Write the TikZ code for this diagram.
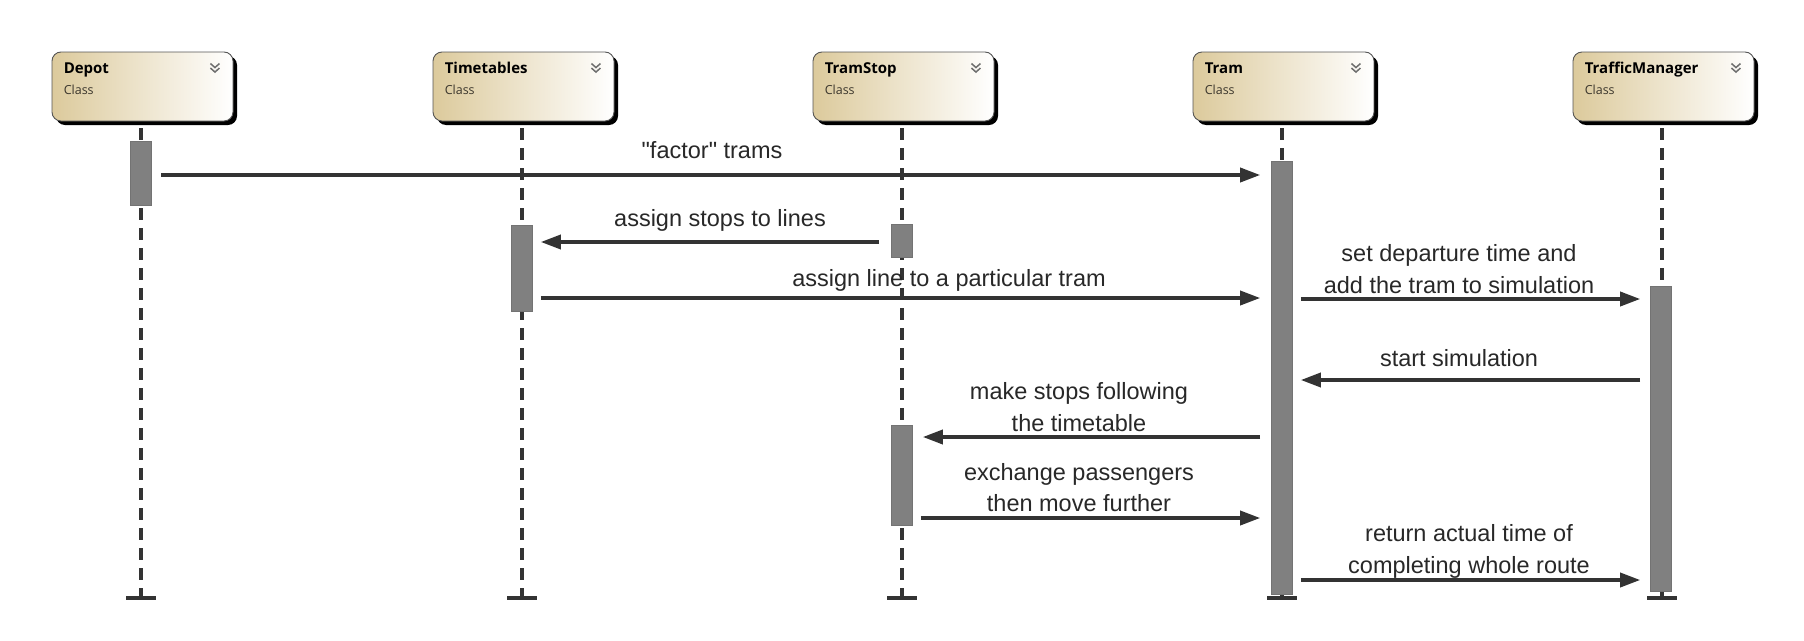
\documentclass[tikz,border=0pt]{standalone}
\usepackage{fontspec}
\setmainfont{Liberation Sans}
\newfontfamily\plainfont{Liberation Sans}[Ligatures=TeXOff]
\newfontfamily\boxfont{Open Sans}
\usetikzlibrary{arrows.meta,shadows}
\definecolor{tanleft}{RGB}{220,202,156}
\definecolor{ink}{RGB}{51,51,51}
\definecolor{txt}{RGB}{40,40,40}
\definecolor{actgray}{RGB}{128,128,128}
\definecolor{boxedge}{RGB}{85,85,85}
\begin{document}
\begin{tikzpicture}[x=1pt,y=-1pt,
  classbox/.style={draw=boxedge, line width=0.9pt, rounded corners=9pt,
    minimum width=181pt, minimum height=69pt, inner sep=0pt,
    left color=tanleft, right color=white,
    drop shadow={shadow xshift=4pt, shadow yshift=-4pt, opacity=1, fill=black}},
  ctitle/.style={anchor=base west, inner sep=0pt, text=black, font=\boxfont\bfseries\fontsize{15}{17}\selectfont},
  csub/.style={anchor=base west, inner sep=0pt, text={rgb,255:red,60;green,55;blue,45}, font=\boxfont\fontsize{12.5}{14}\selectfont},
  chev/.style={draw={rgb,255:red,110;green,110;blue,110}, line width=1.5pt},
  lifeline/.style={draw=ink, line width=4pt, dash pattern=on 12pt off 8pt, dash phase=13pt},
  endbar/.style={fill=ink, minimum width=30pt, minimum height=4pt, inner sep=0pt},
  act/.style={fill=actgray, draw={rgb,255:red,115;green,115;blue,115}, line width=0.6pt, minimum width=21pt, inner sep=0pt, anchor=north},
  msg/.style={draw=ink, line width=3.5pt, -{Triangle[length=20pt,width=14pt]}},
  lbl/.style={anchor=base, inner sep=0pt, text=txt, font=\plainfont\fontsize{23.5}{28}\selectfont}
]
\fill[white] (0,0) rectangle (1804,640);
\useasboundingbox (0,0) rectangle (1804,640);

% class boxes
\foreach \nm/\x/\t in {depot/141/Depot, timet/522/Timetables, stop/902/TramStop, tram/1282/Tram, mgr/1662/TrafficManager}{
  \node[classbox] (\nm) at (\x+1.5,86.5) {};
  \node[ctitle] (\nm-t) at ([xshift=12pt,yshift=-22pt]\nm.north west) {\t};
  \node[csub] (\nm-c) at ([xshift=12pt,yshift=-43pt]\nm.north west) {Class};
  \draw[chev] ([xshift=-23pt,yshift=-12pt]\nm.north east) -- ++(4.5,4) -- ++(4.5,-4);
  \draw[chev] ([xshift=-23pt,yshift=-16.5pt]\nm.north east) -- ++(4.5,4) -- ++(4.5,-4);
  \node[endbar] (\nm-end) at (\x,598) {};
  \draw[lifeline] (\x,121) -- (\nm-end.north);
}

% activations
\node[act, minimum height=64pt]  (actD)  at (140.5,141) {};
\node[act, minimum height=86pt]  (actTT) at (522,225) {};
\node[act, minimum height=33pt]  (actS1) at (902,224) {};
\node[act, minimum height=100pt] (actS2) at (902,425) {};
\node[act, minimum height=433pt] (actT)  at (1282,161) {};
\node[act, minimum height=305pt] (actM)  at (1661,286) {};

% message rows
\coordinate (r1) at (0,175);
\coordinate (r2) at (0,242);
\coordinate (r3) at (0,298);
\coordinate (r4) at (0,299);
\coordinate (r5) at (0,380);
\coordinate (r6) at (0,437);
\coordinate (r7) at (0,518);
\coordinate (r8) at (0,580);

\draw[msg] ([xshift=10pt]actD.east |- r1) -- ([xshift=-11pt]actT.west |- r1);
\draw[msg] ([xshift=-12pt]actS1.west |- r2) -- ([xshift=8pt]actTT.east |- r2);
\draw[msg] ([xshift=8pt]actTT.east |- r3) -- ([xshift=-11pt]actT.west |- r3);
\draw[msg] ([xshift=8pt]actT.east |- r4) -- ([xshift=-10pt]actM.west |- r4);
\draw[msg] ([xshift=-10pt]actM.west |- r5) -- ([xshift=8pt]actT.east |- r5);
\draw[msg] ([xshift=-11pt]actT.west |- r6) -- ([xshift=10pt]actS2.east |- r6);
\draw[msg] ([xshift=8pt]actS2.east |- r7) -- ([xshift=-11pt]actT.west |- r7);
\draw[msg] ([xshift=8pt]actT.east |- r8) -- ([xshift=-10pt]actM.west |- r8);

% labels
\node[lbl] (l1)  at (712,158) {"factor" trams};
\node[lbl] (l2)  at (720,226) {assign stops to lines};
\node[lbl] (l3)  at (949,286) {assign line to a particular tram};
\node[lbl] (l4a) at (1459,261) {set departure time and};
\node[lbl] (l4b) at (1459,293) {add the tram to simulation};
\node[lbl] (l5)  at (1459,366) {start simulation};
\node[lbl] (l6a) at (1079,399) {make stops following};
\node[lbl] (l6b) at (1079,431) {the timetable};
\node[lbl] (l7a) at (1079,480) {exchange passengers};
\node[lbl] (l7b) at (1079,511) {then move further};
\node[lbl] (l8a) at (1469,541) {return actual time of};
\node[lbl] (l8b) at (1469,573) {completing whole route};
\end{tikzpicture}
\end{document}
